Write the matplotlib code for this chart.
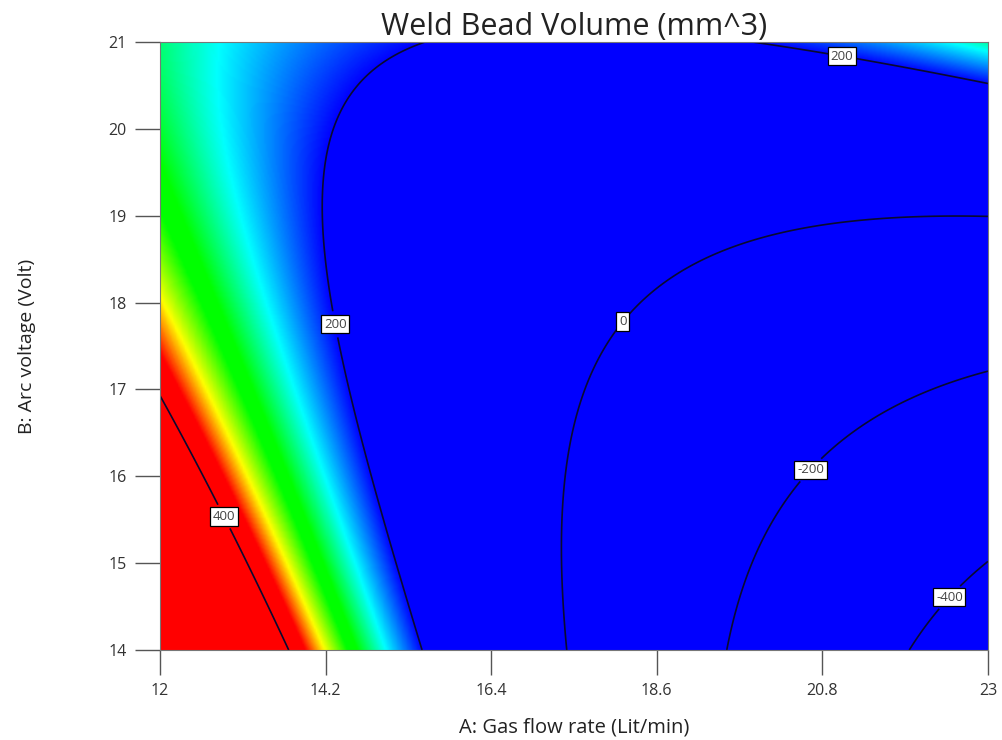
import numpy as np
import matplotlib
matplotlib.use("Agg")
import matplotlib.pyplot as plt
from matplotlib.colors import LinearSegmentedColormap, Normalize

# ---- data ---------------------------------------------------------------
title = "Weld Bead Volume (mm^3)"
x_label = "A: Gas flow rate (Lit/min)"
y_label = "B: Arc voltage (Volt)"
x_ticks = [12, 14.2, 16.4, 18.6, 20.8, 23]
x_tick_labels = ["12", "14.2", "16.4", "18.6", "20.8", "23"]
y_ticks = [14, 15, 16, 17, 18, 19, 20, 21]
contour_levels = [-400, -200, 0, 200, 400]

# traced points of each contour line (A, B)
c400_A = [12.0, 12.88, 13.70]
c400_B = [16.87, 15.55, 14.0]
c200L_A = [15.47, 14.76, 14.38, 14.18, 14.43, 14.92, 15.55]
c200L_B = [14.0, 16.08, 17.57, 19.18, 20.45, 20.83, 21.0]
c200R_A = [19.27, 21.07, 22.27, 23.0]
c200R_B = [21.0, 20.88, 20.64, 20.53]
c0_A = [17.41, 17.41, 17.71, 18.18, 18.74, 19.61, 20.94, 22.99]
c0_B = [14.0, 15.73, 17.07, 17.76, 18.26, 18.69, 18.89, 18.99]
cm200_A = [19.55, 19.71, 20.14, 20.61, 21.47, 23.0]
cm200_B = [14.0, 14.77, 15.53, 16.10, 16.65, 17.2]
cm400_A = [21.99, 22.46, 23.0]
cm400_B = [14.0, 14.63, 15.0]
# values estimated from the colour shading
shade_A = [12.0, 12.0, 12.0, 12.0, 23.0, 12.0]
shade_B = [21.0, 20.0, 19.0, 18.0, 21.0, 14.0]
shade_V = [296, 302, 312, 345, 275, 610]

# label positions (A, B)
label_pos = [(12.88, 15.55), (14.39, 17.76), (21.07, 20.88),
             (18.18, 17.76), (20.61, 16.10), (22.46, 14.63)]

# colour shading range and colours
shade_min, shade_max = 200, 385
shade_colors = [(0.0, "#0000ff"), (0.29, "#00ffff"), (0.52, "#00ff00"),
                (0.60, "#00ff00"), (0.79, "#ffff00"), (0.95, "#ff0000"),
                (1.0, "#ff0000")]

# ---- build the response surface from the traced points -----------------
A_pts, B_pts, V_pts = [], [], []
for lv, aa, bb in [(400, c400_A, c400_B), (200, c200L_A, c200L_B),
                   (200, c200R_A, c200R_B), (0, c0_A, c0_B),
                   (-200, cm200_A, cm200_B), (-400, cm400_A, cm400_B)]:
    A_pts += aa; B_pts += bb; V_pts += [lv] * len(aa)
A_pts += shade_A; B_pts += shade_B; V_pts += shade_V
A_pts = np.array(A_pts); B_pts = np.array(B_pts); V_pts = np.array(V_pts, float)
w = np.ones_like(V_pts); w[-len(shade_V):] = 0.3


def design(A, B):
    a = (A - 17.5) / 5.5
    b = (B - 17.5) / 3.5
    return np.stack([np.ones_like(a), a, b, a * a, a * b, b * b,
                     a ** 3, a * a * b, a * b * b, b ** 3], axis=-1)


coef, *_ = np.linalg.lstsq(design(A_pts, B_pts) * w[:, None], V_pts * w, rcond=None)

Ag, Bg = np.meshgrid(np.linspace(12, 23, 500), np.linspace(14, 21, 400))
Z = design(Ag, Bg) @ coef

# ---- plot ---------------------------------------------------------------
plt.rcParams["font.family"] = ["Open Sans", "DejaVu Sans"]
fig = plt.figure(figsize=(10.02, 7.40), dpi=100)
ax = fig.add_axes([0.1597, 0.1216, 0.8263, 0.8216])

cmap = LinearSegmentedColormap.from_list("de", shade_colors)
ax.imshow(Z, extent=[12, 23, 14, 21], origin="lower", aspect="auto",
          cmap=cmap, norm=Normalize(shade_min, shade_max), interpolation="bilinear")
cs = ax.contour(Ag, Bg, Z, levels=contour_levels, colors="#0a0a30",
                linewidths=1.2, linestyles="solid")
texts = ax.clabel(cs, fmt="%d", fontsize=9.5, inline=True, inline_spacing=2,
                  manual=label_pos)
for t in texts:
    t.set_rotation(0)
    t.set_bbox(dict(boxstyle="square,pad=0.2", fc="white", ec="black", lw=0.9))
    t.set_color("#444444")

ax.set_xlim(12, 23)
ax.set_ylim(14, 21)
ax.set_xticks(x_ticks)
ax.set_xticklabels(x_tick_labels)
ax.set_yticks(y_ticks)
ax.tick_params(direction="out", length=18, width=1, color="#555555",
               labelsize=11.5, labelcolor="#333333", pad=6)
for s in ax.spines.values():
    s.set_color("#777777")
ax.set_title(title, fontsize=22, pad=2, color="#222222")
ax.set_xlabel(x_label, fontsize=14.5, labelpad=13, color="#222222")
ax.set_ylabel(y_label, fontsize=14, labelpad=52, color="#222222")

fig.savefig("out.png", dpi=100)
